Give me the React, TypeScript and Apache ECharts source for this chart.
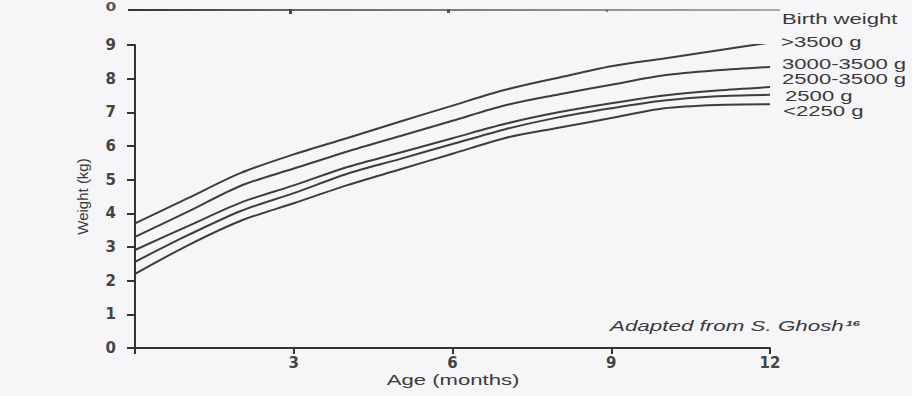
import React, { useEffect, useRef } from "react";
import * as echarts from "echarts";

const months = [0, 1, 2, 3, 4, 5, 6, 7, 8, 9, 10, 11, 12];
const over3500 = [3.7, 4.45, 5.2, 5.75, 6.23, 6.72, 7.2, 7.67, 8.03, 8.37, 8.6, 8.84, 9.07];
const w3000to3500 = [3.3, 4.05, 4.82, 5.33, 5.83, 6.29, 6.75, 7.21, 7.53, 7.82, 8.1, 8.25, 8.35];
const w2500to3500 = [2.91, 3.62, 4.32, 4.83, 5.37, 5.8, 6.23, 6.66, 7.0, 7.27, 7.5, 7.65, 7.75];
const w2500 = [2.56, 3.35, 4.07, 4.6, 5.17, 5.61, 6.06, 6.5, 6.85, 7.12, 7.35, 7.48, 7.52];
const under2250 = [2.2, 3.05, 3.78, 4.3, 4.83, 5.3, 5.77, 6.24, 6.54, 6.83, 7.12, 7.22, 7.24];

const seriesNames = [">3500 g", "3000-3500 g", "2500-3500 g", "2500 g", "<2250 g"];
const seriesValues = [over3500, w3000to3500, w2500to3500, w2500, under2250];
const legendTitle = "Birth weight";
const xAxisTitle = "Age (months)";
const yAxisTitle = "Weight (kg)";
const sourceNote = "Adapted from S. Ghosh";
const sourceRef = "16";
const topRemnantLabel = "0";

const labelY = [42, 64, 79, 96, 111];
const labelX = [781, 782, 782, 785, 783];

const FONT = "Liberation Sans, Arial, sans-serif";
const TICK_FONT = "DejaVu Sans, sans-serif";
const INK = "#3a3a3a";
const SX = 1.58;

export default function App() {
  const ref = useRef<HTMLDivElement>(null);
  useEffect(() => {
    if (!ref.current) return;
    const chart = echarts.init(ref.current, undefined, { renderer: "svg" });
    const series = seriesValues.map((vals, i) => ({
      type: "line",
      name: seriesNames[i],
      data: months.map((m, j) => [m, vals[j]]),
      symbol: "none",
      smooth: 0.3,
      lineStyle: { color: "#3d3d3d", width: 2 },
    }));
    const graphic: any[] = [
      {
        type: "rect",
        shape: { x: 128, y: 9, width: 652, height: 2 },
        style: {
          fill: new echarts.graphic.LinearGradient(0, 0, 1, 0, [
            { offset: 0, color: "#333" },
            { offset: 0.25, color: "#666" },
            { offset: 1, color: "#aaa" },
          ]),
        },
      },
      { type: "rect", shape: { x: 289, y: 9, width: 3, height: 5 }, style: { fill: "#444" } },
      { type: "rect", shape: { x: 447, y: 9, width: 3, height: 4 }, style: { fill: "#555" } },
      { type: "rect", shape: { x: 606, y: 9, width: 2, height: 3 }, style: { fill: "#777" } },
      {
        type: "text",
        x: 111,
        y: 1,
        scaleX: 1.3,
        style: { text: topRemnantLabel, font: `bold 12px ${TICK_FONT}`, fill: "#555", textAlign: "center", textVerticalAlign: "top" },
      },
      {
        type: "text",
        x: 782,
        y: 19,
        scaleX: SX,
        style: { text: legendTitle, font: `14px ${FONT}`, fill: INK, textVerticalAlign: "middle" },
      },
      ...seriesNames.map((n, i) => ({
        type: "text",
        x: labelX[i],
        y: labelY[i],
        scaleX: SX,
        style: { text: n, font: `14px ${FONT}`, fill: INK, textVerticalAlign: "middle" },
      })),
      {
        type: "text",
        x: 610,
        y: 326,
        scaleX: 1.6,
        style: {
          text: `{a|${sourceNote}}{s|${sourceRef}}`,
          fill: INK,
          textVerticalAlign: "middle",
          rich: {
            a: { font: `italic 14px ${FONT}`, fill: INK },
            s: { font: `italic bold 8px ${FONT}`, fill: INK, verticalAlign: "top", padding: [0, 0, 7, 1] },
          },
        },
      },
      {
        type: "text",
        x: 453,
        y: 380,
        scaleX: SX,
        style: { text: xAxisTitle, font: `14px ${FONT}`, fill: INK, textAlign: "center", textVerticalAlign: "middle" },
      },
    ];
    chart.setOption({
      animation: false,
      backgroundColor: "#f6f5f7",
      grid: { left: 135, right: 142, top: 45, bottom: 48, containLabel: false },
      xAxis: {
        type: "value",
        min: 0,
        max: 12,
        interval: 3,
        axisLine: { lineStyle: { color: "#333", width: 2 } },
        axisTick: { show: true, length: 6, lineStyle: { color: "#333", width: 2 } },
        axisLabel: {
          fontFamily: TICK_FONT,
          fontSize: 15,
          fontWeight: "bold",
          color: "#444",
          margin: 7,
          formatter: (v: number) => (v === 0 ? "" : String(v)),
        },
        splitLine: { show: false },
      },
      yAxis: {
        type: "value",
        min: 0,
        max: 9,
        interval: 1,
        name: yAxisTitle,
        nameLocation: "middle",
        nameGap: 45,
        nameTextStyle: { fontFamily: "Liberation Sans", fontSize: 15, color: INK },
        axisLine: { show: true, lineStyle: { color: "#333", width: 2 } },
        axisTick: { show: true, length: 8, lineStyle: { color: "#333", width: 2 } },
        axisLabel: { fontFamily: TICK_FONT, fontSize: 15, fontWeight: "bold", color: "#444", margin: 19 },
        splitLine: { show: false },
      },
      series,
      graphic,
    });
    return () => chart.dispose();
  }, []);
  return (
    <div
      ref={ref}
      style={{ position: "fixed", left: 0, top: 0, width: 912, height: 396 }}
    />
  );
}
